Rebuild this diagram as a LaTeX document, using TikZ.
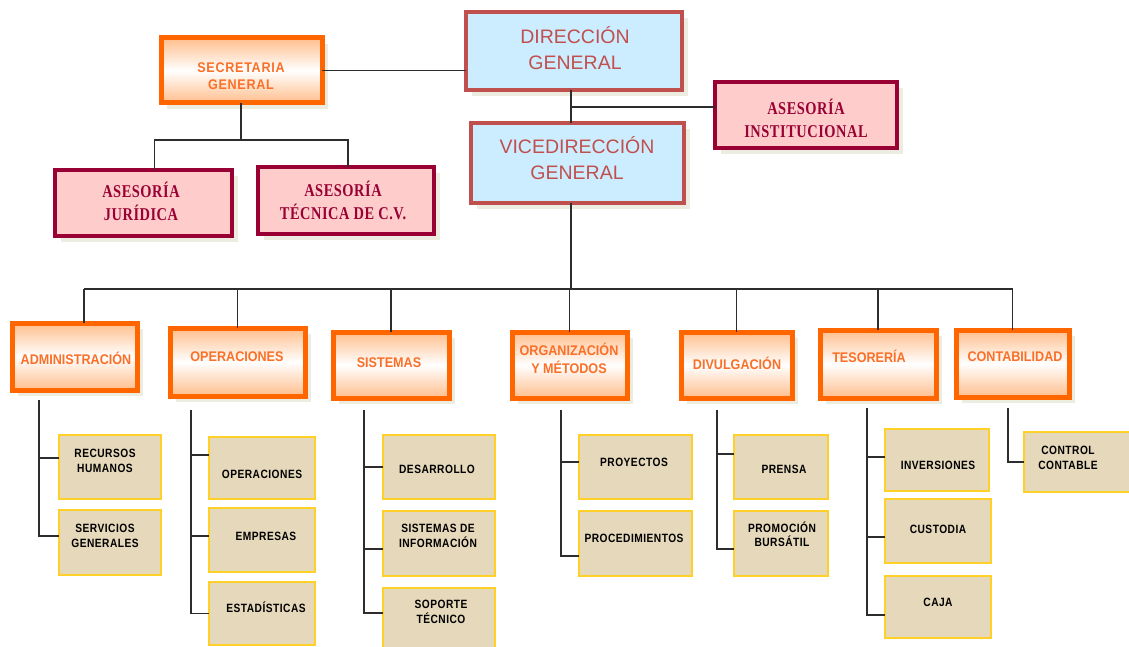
\documentclass[tikz,border=0pt]{standalone}
\usepackage{fontspec}
\setmainfont{Liberation Sans}
\newfontfamily\dirfont{Liberation Sans}
\newfontfamily\deptfont[FakeStretch=0.9]{Liberation Sans}
\newfontfamily\secfont[FakeStretch=0.9,LetterSpace=5]{Liberation Sans}
\newfontfamily\leaffont[FakeStretch=0.85,LetterSpace=4]{Liberation Sans}
\newfontfamily\asefont[FakeStretch=0.8,LetterSpace=3]{Liberation Serif}
\usetikzlibrary{shadows}
\definecolor{dirc}{RGB}{192,80,77}
\definecolor{dirfill}{RGB}{204,236,255}
\definecolor{asec}{RGB}{153,0,51}
\definecolor{asefill}{RGB}{255,204,204}
\definecolor{orc}{RGB}{255,102,0}
\definecolor{ortext}{RGB}{250,112,40}
\definecolor{orlight}{RGB}{255,190,140}
\definecolor{leafb}{RGB}{255,208,40}
\definecolor{leaff}{RGB}{230,216,186}
\definecolor{linec}{RGB}{45,45,45}
\definecolor{shadc}{RGB}{236,236,224}
\newcommand\bx[6]{\node[#1, minimum width={#5-#3}, minimum height={#6-#4}] (#2) at ({(#3+#5)/2},{(#4+#6)/2}) {};}
\newcommand\tx[5]{\node[#1] (#2) at (#3,#4) {#5};}
\begin{document}
\begin{tikzpicture}[x=1pt,y=-1pt,
  conn/.style={draw=linec, line width=1.2pt},
  shad/.style={drop shadow={shadow xshift=6pt, shadow yshift=-6pt, fill=shadc, opacity=1}},
  anybox/.style={rectangle, inner sep=0pt, outer sep=0pt},
  dirbox/.style={anybox, draw=dirc, line width=4.5pt, fill=dirfill, shad},
  asebox/.style={anybox, draw=asec, line width=4pt, fill=asefill, shad},
  orbox/.style={anybox, draw=orc, line width=5pt, top color=orlight, bottom color=orlight, middle color=white, shad},
  leafbox/.style={anybox, draw=leafb, line width=1.8pt, fill=leaff},
  dirtext/.style={inner sep=0pt, align=center, text=dirc, font=\dirfont\fontsize{19.5}{26}\selectfont},
  asetext/.style={inner sep=0pt, align=center, text=asec, font=\asefont\bfseries\fontsize{18}{23}\selectfont},
  sectext/.style={inner sep=0pt, align=center, text=ortext, font=\secfont\bfseries\fontsize{14}{17}\selectfont},
  depttext/.style={inner sep=0pt, align=center, text=ortext, font=\deptfont\bfseries\fontsize{14}{18}\selectfont},
  leaftext/.style={inner sep=0pt, align=center, text=black, font=\leaffont\bfseries\fontsize{12}{14.5}\selectfont}]
\useasboundingbox (0,0) rectangle (1129,647);
\fill[white] (0,0) rectangle (1129,647);

% top level
\bx{dirbox}{dir}{466}{12}{682}{90}
\bx{orbox}{sec}{161}{38}{322}{103}
\bx{asebox}{ai}{715}{82}{897}{148}
\bx{dirbox}{vice}{471}{123}{684}{203}
\bx{asebox}{aj}{55}{170}{232}{236}
\bx{asebox}{at}{258}{167}{434}{234}

\tx{dirtext}{tdir}{575}{48}{DIRECCIÓN\\GENERAL}
\tx{sectext}{tsec}{241}{76}{SECRETARIA\\GENERAL}
\tx{asetext}{tai}{806}{118}{ASESORÍA\\INSTITUCIONAL}
\tx{dirtext}{tvice}{577}{158}{VICEDIRECCIÓN\\GENERAL}
\tx{asetext}{taj}{141}{201}{ASESORÍA\\JURÍDICA}
\tx{asetext}{tat}{343}{200}{ASESORÍA\\TÉCNICA DE C.V.}

% departments
\bx{orbox}{adm}{12}{323}{137}{390}
\bx{orbox}{ope}{170}{328}{305}{396}
\bx{orbox}{sis}{333}{332}{449}{398}
\bx{orbox}{org}{512}{332}{627}{398}
\bx{orbox}{div}{681}{332}{792}{398}
\bx{orbox}{tes}{820}{330}{936}{398}
\bx{orbox}{con}{956}{330}{1069}{397}

\tx{depttext}{tadm}{76}{358}{ADMINISTRACIÓN}
\tx{depttext}{tope}{237}{357}{OPERACIONES}
\tx{depttext}{tsis}{389}{363}{SISTEMAS}
\tx{depttext}{torg}{569}{358}{ORGANIZACIÓN\\Y MÉTODOS}
\tx{depttext}{tdiv}{737}{363}{DIVULGACIÓN}
\tx{depttext}{ttes}{869}{356}{TESORERÍA}
\tx{depttext}{tcon}{1015}{357}{CONTABILIDAD}

% leaves
\bx{leafbox}{rh}{59}{435}{161}{499}
\bx{leafbox}{sg}{59}{510}{161}{575}
\bx{leafbox}{op}{209}{437}{315}{499}
\bx{leafbox}{emp}{209}{508}{315}{572}
\bx{leafbox}{est}{209}{582}{315}{645}
\bx{leafbox}{des}{383}{435}{495}{499}
\bx{leafbox}{si}{383}{511}{495}{576}
\bx{leafbox}{sop}{383}{588}{495}{654}
\bx{leafbox}{proy}{579}{435}{692}{499}
\bx{leafbox}{proc}{579}{511}{692}{576}
\bx{leafbox}{pre}{734}{435}{828}{499}
\bx{leafbox}{prom}{734}{511}{828}{576}
\bx{leafbox}{inv}{885}{429}{989}{491}
\bx{leafbox}{cus}{885}{499}{991}{563}
\bx{leafbox}{caja}{885}{576}{991}{638}
\bx{leafbox}{cc}{1024}{432}{1135}{492}

\tx{leaftext}{trh}{105}{461}{RECURSOS\\HUMANOS}
\tx{leaftext}{tsg}{105}{536}{SERVICIOS\\GENERALES}
\tx{leaftext}{top}{262}{474}{OPERACIONES}
\tx{leaftext}{temp}{266}{536}{EMPRESAS}
\tx{leaftext}{test}{266}{607}{ESTADÍSTICAS}
\tx{leaftext}{tdes}{437}{469}{DESARROLLO}
\tx{leaftext}{tsi}{438}{536}{SISTEMAS DE\\INFORMACIÓN}
\tx{leaftext}{tsop}{441}{612}{SOPORTE\\TÉCNICO}
\tx{leaftext}{tproy}{634}{462}{PROYECTOS}
\tx{leaftext}{tproc}{634}{538}{PROCEDIMIENTOS}
\tx{leaftext}{tpre}{784}{469}{PRENSA}
\tx{leaftext}{tprom}{782}{534}{PROMOCIÓN\\BURSÁTIL}
\tx{leaftext}{tinv}{938}{465}{INVERSIONES}
\tx{leaftext}{tcus}{938}{529}{CUSTODIA}
\tx{leaftext}{tcaja}{938}{602}{CAJA}
\tx{leaftext}{tcc}{1068}{458}{CONTROL\\CONTABLE}

% connectors top
\coordinate (jd) at (571,107);
\coordinate (js) at (241,140);
\coordinate (bus) at (571,289);
\draw[conn] (sec.east) -- (sec.east -| dir.west);
\draw[conn] (dir.south -| jd) -- (vice.north -| jd);
\draw[conn] (jd) -- (jd -| ai.west);
\draw[conn] (sec.south -| js) -- (js);
\draw[conn] ([xshift=11pt]aj.north) |- (js) -| ([xshift=2pt]at.north);
\draw[conn] (vice.south -| bus) -- (bus);
\draw[conn] ([xshift=9.5pt]adm.north |- bus) -- (con.north |- bus);
\draw[conn] ([xshift=9.5pt]adm.north) -- ([xshift=9.5pt]adm.north |- bus);
\foreach \d in {ope,sis,org,div,tes,con}{\draw[conn] (\d.north) -- (\d.north |- bus);}

% connectors to leaves
\coordinate (ta) at ([xshift=27pt,yshift=-10pt]adm.south west);
\draw[conn] (ta) |- ([yshift=9pt]rh.west);
\draw[conn] (ta) |- ([yshift=6.5pt]sg.west);
\coordinate (tb) at ([xshift=21pt,yshift=-14pt]ope.south west);
\draw[conn] (tb) |- ([yshift=13pt]op.west);
\draw[conn] (tb) |- ([yshift=4pt]emp.west);
\draw[conn] (tb) |- (est.west);
\coordinate (tc) at ([xshift=31pt,yshift=-12pt]sis.south west);
\draw[conn] (tc) |- (des.west);
\draw[conn] (tc) |- ([yshift=-5.5pt]si.west);
\draw[conn] (tc) |- ([yshift=8pt]sop.west);
\coordinate (td) at ([xshift=49pt,yshift=-12pt]org.south west);
\draw[conn] (td) |- ([yshift=5pt]proy.west);
\draw[conn] (td) |- ([yshift=-12.5pt]proc.west);
\coordinate (te) at ([xshift=36pt,yshift=-12pt]div.south west);
\draw[conn] (te) |- ([yshift=13pt]pre.west);
\draw[conn] (te) |- ([yshift=-5.5pt]prom.west);
\coordinate (tf) at ([xshift=47pt,yshift=-10pt]tes.south west);
\draw[conn] (tf) |- ([yshift=3pt]inv.west);
\draw[conn] (tf) |- ([yshift=-6pt]cus.west);
\draw[conn] (tf) |- ([yshift=-8pt]caja.west);
\coordinate (tg) at ([xshift=52pt,yshift=-11pt]con.south west);
\draw[conn] (tg) |- (cc.west);
\end{tikzpicture}
\end{document}
